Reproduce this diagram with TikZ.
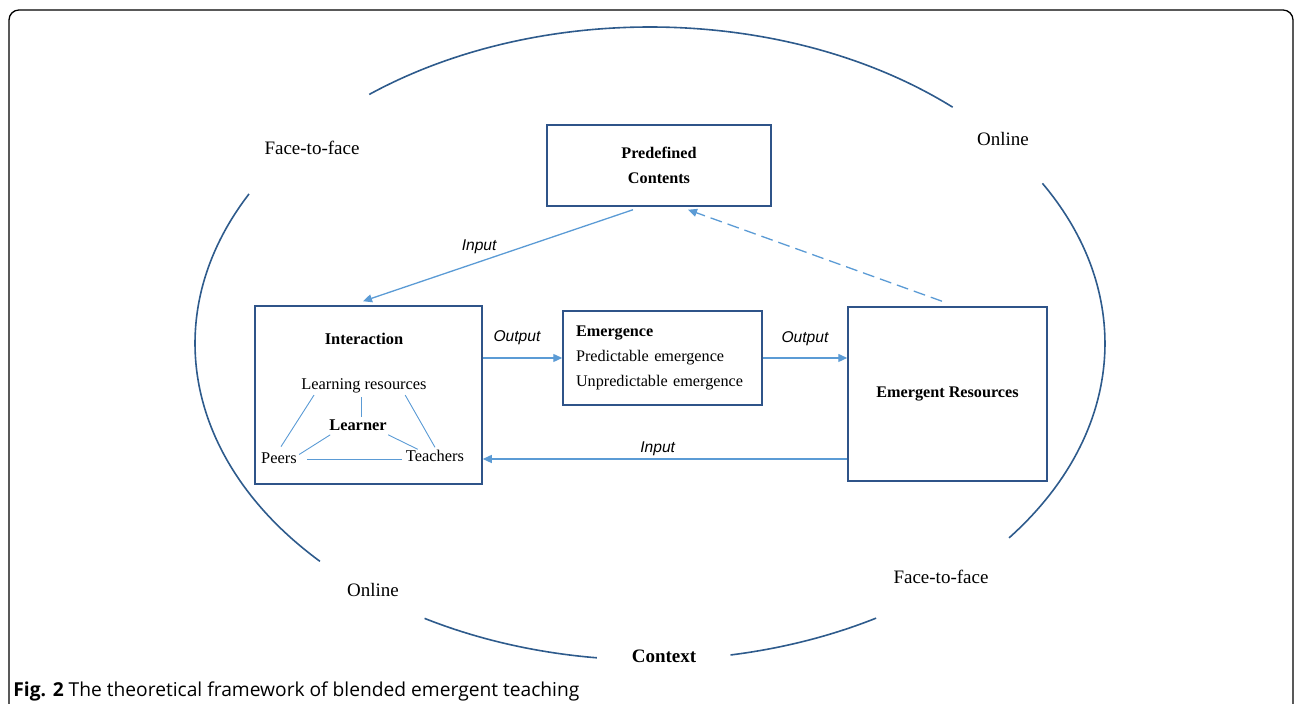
\documentclass[tikz,border=0pt]{standalone}
\usepackage{fontspec}
\setmainfont{Liberation Serif}
\setsansfont{Liberation Sans}
\newfontfamily\capfont{Open Sans}
\usepackage{tikz}
\usetikzlibrary{positioning, arrows.meta, calc}
\usepackage{xcolor}

\definecolor{ringblue}{HTML}{2E5B8C}
\definecolor{boxblue}{HTML}{2F5489}
\definecolor{flowblue}{HTML}{5B9BD5}

\tikzset{
  box/.style={draw=boxblue, line width=0.75pt, inner sep=0pt},
  flow/.style={draw=flowblue, line width=0.65pt, -{Triangle[length=4.5pt, width=4pt]}},
  tri/.style={draw=flowblue, line width=0.45pt},
  ring/.style={draw=ringblue, line width=0.8pt},
  lbl/.style={font=\sffamily\itshape\fontsize{7.8}{9}\selectfont, inner sep=1pt},
  small/.style={font=\fontsize{8.2}{10}\selectfont, inner sep=1pt},
  place/.style={font=\fontsize{9.5}{11}\selectfont, inner sep=1pt}
}

\begin{document}
\begin{tikzpicture}[x=0.5pt, y=0.5pt]
\useasboundingbox (0,0) rectangle (1295,704);

% frame
\draw[line width=0.65pt, rounded corners=5pt] (9,0) -- (9,694) -- (1293,694) -- (1293,0);

% context ring, drawn in pieces
\coordinate (ctr) at (650,360.5);
\foreach \a/\b in {48.3/128.1, 151.8/223.5, 240.3/263.3, 280.2/299.8, -37.9/30.4}
  \draw[ring] (ctr) ++(\a:227.5pt and 158.25pt)
    arc[start angle=\a, end angle=\b, x radius=227.5pt, y radius=158.25pt];

% mode labels
\node[place] (ftfa) at (312,556) {Face-to-face};
\node[place] (onla) at (1003,565) {Online};
\node[place] (onlb) at (373,114) {Online};
\node[place] (ftfb) at (941,127) {Face-to-face};
\node[place, font=\bfseries\fontsize{9.5}{11}\selectfont] (ctx) at (664,48) {Context};

% boxes
\node[box, minimum width=112pt, minimum height=40.5pt, align=center,
      font=\bfseries\fontsize{8.1}{12.5}\selectfont] (pred) at (659,538.5) {Predefined\\Contents};
\node[box, minimum width=113.5pt, minimum height=89pt] (inter) at (368.5,309) {};
\node[box, minimum height=47pt, text width=86.5pt, inner xsep=6.5pt, align=left,
      font=\fontsize{8.1}{12.3}\selectfont] (emer) at (662.5,346)
      {\textbf{Emergence}\\Predictable emergence\\Unpredictable emergence};
\node[box, minimum width=99.5pt, minimum height=87pt,
      font=\bfseries\fontsize{8.1}{10}\selectfont] (er) at (947.5,310) {Emergent Resources};

% inside the interaction box
\node[small, font=\bfseries\fontsize{8.2}{10}\selectfont] (inttitle) at (364,365) {Interaction};
\node[small] (lr) at (364,318.5) {Learning resources};
\node[small, font=\bfseries\fontsize{8.2}{10}\selectfont] (learner) at (358,279) {Learner};
\node[small] (peers) at (279,245.5) {Peers};
\node[small] (teachers) at (435,248.5) {Teachers};

\draw[tri] ([xshift=-25pt]lr.south) -- ([xshift=1pt, yshift=2pt]peers.north);
\draw[tri] ([xshift=-1.4pt, yshift=-1pt]lr.south) -- ([xshift=1.6pt]learner.north);
\draw[tri] ([xshift=20.6pt]lr.south) -- (teachers.north);
\draw[tri] ([xshift=-13.9pt, yshift=-1pt]learner.south) -- ([yshift=2pt]peers.east);
\draw[tri] ([xshift=15.1pt, yshift=-1pt]learner.south) -- ([xshift=-8.6pt, yshift=-1pt]teachers.north);
\draw[tri] ([xshift=4pt, yshift=-0.5pt]peers.east) -- ([xshift=-1pt, yshift=-2pt]teachers.west);

% flows
\draw[flow] ([xshift=-13pt, yshift=-1.5pt]pred.south) -- ([xshift=-2.75pt, yshift=2pt]inter.north)
  node[lbl, pos=0.57, above=3pt] {Input};
\draw[flow] (inter.east |- emer.west) -- (emer.west)
  node[lbl, pos=0.43, above=5.5pt] {Output};
\draw[flow] (emer.east) -- (er.west |- emer.east)
  node[lbl, midway, above=5pt] {Output};
\draw[flow] ([yshift=-32.5pt]er.west) -- ([yshift=-32.5pt]er.west -| inter.east)
  node[lbl, pos=0.52, above=0.5pt] {Input};
\draw[flow, dash pattern=on 6pt off 3pt] ([xshift=-2.75pt, yshift=2.5pt]er.north)
  -- ([xshift=14.5pt, yshift=-1.5pt]pred.south);

% caption
\node[anchor=base west, inner sep=0pt, font=\capfont\fontsize{9.6}{11}\selectfont] (cap) at (13,7)
  {\textbf{Fig. 2} The theoretical framework of blended emergent teaching};

\end{tikzpicture}
\end{document}
